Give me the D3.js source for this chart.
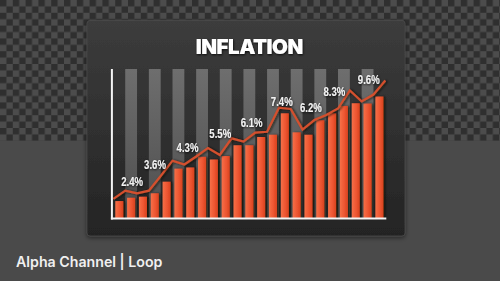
<!DOCTYPE html>
<html>
<head>
<meta charset="utf-8">
<script src="https://cdn.jsdelivr.net/npm/d3@7"></script>
<style>
html,body{margin:0;padding:0;background:#4a4a4a;overflow:hidden;}
svg{display:block;}
</style>
</head>
<body>
<svg id="chart" width="500" height="281"></svg>
<script>
// ---- data ----
const title = "INFLATION";
const footer = "Alpha Channel | Loop";
const barCategories = d3.range(1, 24).map(String);            // 23 bars
const barValues = [1.13, 1.35, 1.42, 1.65, 2.42, 3.29, 3.37, 4.08, 3.9, 4.13, 4.85, 4.85,
                   5.4, 5.55, 6.98, 5.71, 5.55, 6.52, 6.98, 7.47, 7.65, 7.63, 8.1];
const lineValues = [1.27, 1.82, 1.65, 1.82, 2.8, 3.82, 3.57, 4.1, 4.67, 4.2, 5.31, 5.09,
                    5.69, 5.75, 7.35, 7.27, 5.89, 6.53, 6.87, 7.3, 8.5, 7.77, 8.23, 9.17];
const labelTexts = ["2.4%", "3.6%", "4.3%", "5.5%", "6.1%", "7.4%", "6.2%", "8.3%", "9.6%"];
const labelAt    = [1.58, 3.52, 6.27, 9.04, 11.7, 14.24, 16.7, 18.7, 21.6];   // position along line (index)
const labelLevel = [2.4, 3.53, 4.67, 5.65, 6.35, 7.78, 7.37, 8.45, 9.25];     // value level of label centre
const yDomain = [0, 10];

// ---- layout ----
const W = 500, H = 281;
const plot = {left: 113.4, right: 385.3, top: 68, bottom: 218};
const svg = d3.select("#chart");
const defs = svg.append("defs");

// checkerboard pattern
const sq = 6.4;
const pat = defs.append("pattern").attr("id", "checker").attr("patternUnits", "userSpaceOnUse")
  .attr("width", sq * 2).attr("height", sq * 2);
pat.append("rect").attr("width", sq * 2).attr("height", sq * 2).attr("fill", "#4c4c4c");
pat.append("rect").attr("x", 0).attr("y", 0).attr("width", sq).attr("height", sq).attr("fill", "#2f2f2f");
pat.append("rect").attr("x", sq).attr("y", sq).attr("width", sq).attr("height", sq).attr("fill", "#2f2f2f");

const panelGrad = defs.append("linearGradient").attr("id", "panelGrad").attr("x1", 0).attr("y1", 0).attr("x2", 0).attr("y2", 1);
panelGrad.append("stop").attr("offset", "0%").attr("stop-color", "#3c3c3c");
panelGrad.append("stop").attr("offset", "100%").attr("stop-color", "#242424");

const colGrad = defs.append("linearGradient").attr("id", "colGrad").attr("x1", 0).attr("y1", 0).attr("x2", 0).attr("y2", 1);
colGrad.append("stop").attr("offset", "0%").attr("stop-color", "#6e6e6e");
colGrad.append("stop").attr("offset", "100%").attr("stop-color", "#4e4e4e");

const barGrad = defs.append("linearGradient").attr("id", "barGrad").attr("x1", 0).attr("y1", 0).attr("x2", 1).attr("y2", 0);
barGrad.append("stop").attr("offset", "0%").attr("stop-color", "#f57048");
barGrad.append("stop").attr("offset", "55%").attr("stop-color", "#ee5632");
barGrad.append("stop").attr("offset", "100%").attr("stop-color", "#d8431f");

const sh = defs.append("filter").attr("id", "shadow").attr("x", "-50%").attr("y", "-50%").attr("width", "200%").attr("height", "200%");
sh.append("feDropShadow").attr("dx", 1.6).attr("dy", 0.4).attr("stdDeviation", 0.9)
  .attr("flood-color", "#0d0806").attr("flood-opacity", 0.75);
const tsh = defs.append("filter").attr("id", "tshadow").attr("x", "-20%").attr("y", "-30%").attr("width", "140%").attr("height", "160%");
tsh.append("feDropShadow").attr("dx", 0.6).attr("dy", 1).attr("stdDeviation", 0.8)
  .attr("flood-color", "#000").attr("flood-opacity", 0.8);
const psh = defs.append("filter").attr("id", "pshadow").attr("x", "-10%").attr("y", "-10%").attr("width", "120%").attr("height", "120%");
psh.append("feDropShadow").attr("dx", 0).attr("dy", 1.5).attr("stdDeviation", 2)
  .attr("flood-color", "#000").attr("flood-opacity", 0.5);

// background
svg.append("rect").attr("width", W).attr("height", H).attr("fill", "#4a4a4a");
svg.append("rect").attr("width", W).attr("height", 140.8).attr("fill", "url(#checker)");

// panel
svg.append("rect").attr("x", 87).attr("y", 20.5).attr("width", 318).attr("height", 215.5).attr("rx", 3)
  .attr("fill", "url(#panelGrad)").attr("stroke", "#4a4a4a").attr("stroke-width", 0.8)
  .attr("filter", "url(#pshadow)");

// scales
const x = d3.scaleBand().domain(barCategories).range([plot.left, plot.right])
  .paddingInner(0.32).paddingOuter(0.16);
const xi = d3.scaleLinear().domain([0, lineValues.length - 1]).range([plot.left, plot.right]);
const y = d3.scaleLinear().domain(yDomain).range([plot.bottom, plot.top]);

// background columns (every second category)
svg.append("g").selectAll("rect")
  .data(barCategories.filter((d, i) => i % 2 === 1))
  .join("rect")
  .attr("x", d => x(d) + x.bandwidth() / 2 - x.step() / 2)
  .attr("y", y(yDomain[1]) + 1)
  .attr("width", x.step())
  .attr("height", y(yDomain[0]) - y(yDomain[1]) - 1)
  .attr("fill", "url(#colGrad)");

// bars
svg.append("g").attr("filter", "url(#shadow)").selectAll("rect")
  .data(barValues)
  .join("rect")
  .attr("x", (d, i) => x(barCategories[i]))
  .attr("y", d => y(d))
  .attr("width", x.bandwidth())
  .attr("height", d => y(0) - y(d))
  .attr("fill", "url(#barGrad)");

// line
const line = d3.line().x((d, i) => xi(i)).y(d => y(d));
svg.append("path").datum(lineValues)
  .attr("d", line)
  .attr("fill", "none")
  .attr("stroke", "#d4502d")
  .attr("stroke-width", 2.2)
  .attr("stroke-linejoin", "miter")
  .attr("filter", "url(#shadow)");

// axes
const axisG = svg.append("g");
axisG.append("line").attr("x1", plot.left - 1.5).attr("x2", plot.left - 1.5)
  .attr("y1", y(yDomain[1]) + 1).attr("y2", y(0) + 1.5)
  .attr("stroke", "#f4f4f4").attr("stroke-width", 2);
axisG.append("line").attr("x1", plot.left - 2.5).attr("x2", plot.right + 1)
  .attr("y1", y(0) + 0.5).attr("y2", y(0) + 0.5)
  .attr("stroke", "#f4f4f4").attr("stroke-width", 2);

// labels (narrowed bold sans)
svg.append("g").attr("filter", "url(#tshadow)").selectAll("text")
  .data(labelTexts)
  .join("text")
  .attr("transform", (d, i) => `translate(${xi(labelAt[i])},${y(labelLevel[i])}) scale(0.8,1)`)
  .attr("dy", "0.36em")
  .attr("text-anchor", "middle")
  .attr("font-family", "'Liberation Sans', Arial, sans-serif")
  .attr("font-weight", "bold")
  .attr("font-size", 12)
  .attr("fill", "#f2f2f2")
  .text(d => d);

// title
svg.append("text")
  .attr("x", 249.3).attr("y", 54.2)
  .attr("text-anchor", "middle")
  .attr("font-family", "Inter, 'Open Sans', sans-serif")
  .attr("font-weight", 900)
  .attr("font-size", 20.5)
  .attr("letter-spacing", -0.5)
  .attr("fill", "#ffffff")
  .attr("filter", "url(#tshadow)")
  .text(title);

// footer
svg.append("text")
  .attr("x", 16).attr("y", 266.7)
  .attr("font-family", "Inter, 'Open Sans', sans-serif")
  .attr("font-weight", 600)
  .attr("font-size", 14.2)
  .attr("fill", "#f0f0f0")
  .text(footer);
</script>
</body>
</html>
